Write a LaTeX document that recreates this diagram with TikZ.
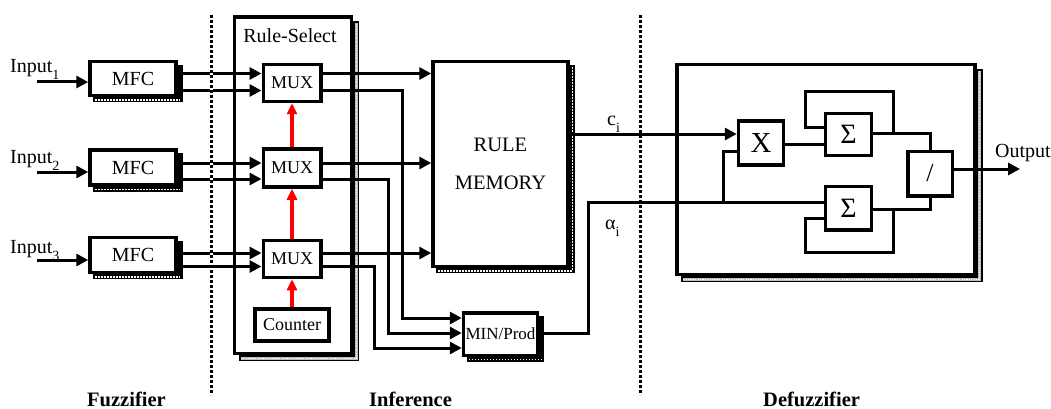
\documentclass[tikz,border=0pt]{standalone}
\usepackage{fontspec}
\setmainfont{Liberation Serif}
\usetikzlibrary{arrows.meta,calc}
\pgfdeclarelayer{bg}
\pgfsetlayers{bg,main}
\newcommand\fsz[1]{\fontsize{#1}{#1}\selectfont}
\newcommand\mysub[1]{\raisebox{-7pt}{\fontsize{14}{14}\selectfont #1}}
% black shadow, white dotted bottom strip
\newcommand\blkshadow[1]{%
  \begin{pgfonlayer}{bg}
    \fill[black] ($(#1.north west)+(5,5)$) rectangle ($(#1.south east)+(5,5)$);
    \draw[white,line width=1.5pt,dash pattern=on 1.5pt off 1.5pt] ($(#1.south west)+(7,2.6)$) -- ($(#1.south east)+(2.6,2.6)$);
  \end{pgfonlayer}}
% black shadow, white dotted bottom and right strips
\newcommand\blkshadowb[1]{%
  \begin{pgfonlayer}{bg}
    \fill[black] ($(#1.north west)+(5,5)$) rectangle ($(#1.south east)+(5,5)$);
    \draw[white,line width=1.5pt,dash pattern=on 1.5pt off 1.5pt] ($(#1.south west)+(7,2.6)$) -- ($(#1.south east)+(2.6,2.6)$) -- ($(#1.north east)+(2.6,7)$);
  \end{pgfonlayer}}
% gray stippled shadow
\newcommand\grayshadow[1]{%
  \begin{pgfonlayer}{bg}
    \fill[black] ($(#1.north west)+(6,6)$) rectangle ($(#1.south east)+(6,6)$);
    \draw[gray!50,line width=3.4pt] ($(#1.south west)+(8,3)$) -- ($(#1.south east)+(3,3)$) -- ($(#1.north east)+(3,8)$);
    \draw[white,line width=1.2pt,dash pattern=on 1.2pt off 1.2pt] ($(#1.south west)+(8,3)$) -- ($(#1.south east)+(3,3)$) -- ($(#1.north east)+(3,8)$);
  \end{pgfonlayer}}
\begin{document}
\begin{tikzpicture}[x=1pt,y=-1pt,
  box/.style={draw,line width=3.5pt,fill=white,inner sep=0pt,font=\fsz{20}},
  conn/.style={line width=3pt},
  arr/.style={conn,-{Triangle[length=12pt,width=12pt]}},
  redarr/.style={draw=red,line width=3.5pt,-{Triangle[length=11pt,width=10pt]}},
  lbl/.style={inner sep=0pt,font=\fsz{20}},
  sect/.style={inner sep=0pt,font=\fsz{20.5}\bfseries},
  sepline/.style={line width=3pt,dash pattern=on 3pt off 2pt}]
\useasboundingbox (0,0) rectangle (1051,409);
\begin{pgfonlayer}{bg}
  \fill[white] (0,0) rectangle (1051,409);
\end{pgfonlayer}

% ---------- Fuzzifier ----------
\node[box,minimum width=86pt,minimum height=34pt] (mfc1) at (133,78.5) {MFC};
\node[box,minimum width=86pt,minimum height=35pt] (mfc2) at (133,167.5) {MFC};
\node[box,minimum width=86pt,minimum height=35pt] (mfc3) at (133,255) {MFC};
\blkshadow{mfc1}\blkshadow{mfc2}\blkshadow{mfc3}

\node[lbl,anchor=base west] (in1) at (10,73) {Input\mysub{1}};
\node[lbl,anchor=base west] (in2) at (10,163) {Input\mysub{2}};
\node[lbl,anchor=base west] (in3) at (10,253) {Input\mysub{3}};
\coordinate (i1) at (37,82);
\coordinate (i2) at (37,172);
\coordinate (i3) at (37,260);
\draw[arr] (i1) -- (i1 -| mfc1.west);
\draw[arr] (i2) -- (i2 -| mfc2.west);
\draw[arr] (i3) -- (i3 -| mfc3.west);

% ---------- Inference ----------
\node[box,minimum width=117pt,minimum height=336.5pt] (rsel) at (293,185.25) {};
\grayshadow{rsel}
\node[lbl,anchor=base] (rseltxt) at (290,43) {Rule-Select};
\node[box,font=\fsz{18},minimum width=57.5pt,minimum height=37pt] (mux1) at (292,83) {MUX};
\node[box,font=\fsz{18},minimum width=57.5pt,minimum height=38pt] (mux2) at (292,168) {MUX};
\node[box,font=\fsz{18},minimum width=57.5pt,minimum height=37pt] (mux3) at (292,259) {MUX};
\node[box,font=\fsz{18},minimum width=74pt,minimum height=32pt] (cnt) at (292,325) {Counter};

\node[box,align=center,font=\fontsize{20.5}{38.5}\selectfont,minimum width=135pt,minimum height=205pt] (rm) at (500.5,164) {RULE\\MEMORY};
\blkshadowb{rm}
\node[box,font=\fsz{17},minimum width=74pt,minimum height=42.5pt] (mp) at (500.5,334) {MIN/Prod};
\blkshadow{mp}

\draw[redarr] (cnt.north) -- (mux3.south);
\draw[redarr] (mux3.north) -- (mux2.south);
\draw[redarr] (mux2.north) -- (mux1.south);

% MFC -> MUX
\draw[arr] (mfc1.east |- 0,73.5) -- (mux1.west |- 0,73.5);
\draw[arr] (mfc1.east |- 0,90.5) -- (mux1.west |- 0,90.5);
\draw[arr] (mfc2.east |- 0,163) -- (mux2.west |- 0,163);
\draw[arr] (mfc2.east |- 0,179) -- (mux2.west |- 0,179);
\draw[arr] (mfc3.east |- 0,253) -- (mux3.west |- 0,253);
\draw[arr] (mfc3.east |- 0,266.5) -- (mux3.west |- 0,266.5);

% MUX -> RULE MEMORY
\draw[arr] (mux1.east |- 0,73.5) -- (rm.west |- 0,73.5);
\draw[arr] (mux2.east |- 0,163) -- (rm.west |- 0,163);
\draw[arr] (mux3.east |- 0,253) -- (rm.west |- 0,253);

% MUX -> MIN/Prod
\draw[arr] (mux1.east |- 0,90.5) -| (402.5,318) -- (mp.west |- 0,318);
\draw[arr] (mux2.east |- 0,179) -| (388.5,333) -- (mp.west |- 0,333);
\draw[arr] (mux3.east |- 0,266.5) -| (374,348) -- (mp.west |- 0,348);

% separator 2 (under the connectors)
\coordinate (sepBt) at (640,15);
\coordinate (sepBb) at (640,395);
\draw[sepline] (sepBt) -- (sepBb);

% ---------- Defuzzifier ----------
\node[box,minimum width=298pt,minimum height=210pt] (dz) at (826,169.5) {};
\grayshadow{dz}
\node[box,font=\fsz{29},minimum width=45pt,minimum height=44pt] (xb) at (761,143) {X};
\node[box,font=\fsz{28},minimum width=46pt,minimum height=42pt] (s1) at (848.5,134.5) {Σ};
\node[box,font=\fsz{28},minimum width=46pt,minimum height=43.5pt] (s2) at (848.5,208) {Σ};
\node[box,font=\fsz{26},minimum width=44.5pt,minimum height=44.5pt] (dv) at (930,173.5) {/};

\node[lbl,anchor=base west] (ci) at (607,125) {c\mysub{i}};
\node[lbl,anchor=base west] (ai) at (605,229) {α\mysub{i}};
\node[lbl,anchor=base west] (outtxt) at (995,157) {Output};

\coordinate (br) at (723.5,202);
\coordinate (outp) at (1020,169);

\draw[arr] (rm.east |- 0,134) -- (xb.west |- 0,134);
\draw[conn] (mp.east |- 0,333) -| (588,202) -- (s2.west |- 0,202);
\draw[conn] (br) |- (xb.west |- 0,151);
\draw[conn] (xb.east |- 0,144) -- (s1.west |- 0,144);
\draw[conn] (s1.east |- 0,133.5) -- (893.5,133.5) |- (805,91.5) |- (s1.west |- 0,127);
\draw[conn] (s1.east |- 0,133.5) -| (dv.north);
\draw[conn] (s2.east |- 0,209) -- (893.5,209) |- (805,252) |- (s2.west |- 0,218);
\draw[conn] (s2.east |- 0,209) -| (dv.south);
\draw[arr] (dv.east |- 0,169) -- (outp);

% separator 1 (over the connectors)
\coordinate (sepAt) at (211,15);
\coordinate (sepAb) at (211,395);
\draw[white,line width=3pt] (sepAt) -- (sepAb);
\draw[sepline] (sepAt) -- (sepAb);

% section labels
\node[sect,anchor=base west] (fz) at (87,406) {Fuzzifier};
\node[sect,anchor=base west] (inf) at (369,406) {Inference};
\node[sect,anchor=base west] (dfz) at (763,406) {Defuzzifier};
\end{tikzpicture}
\end{document}
